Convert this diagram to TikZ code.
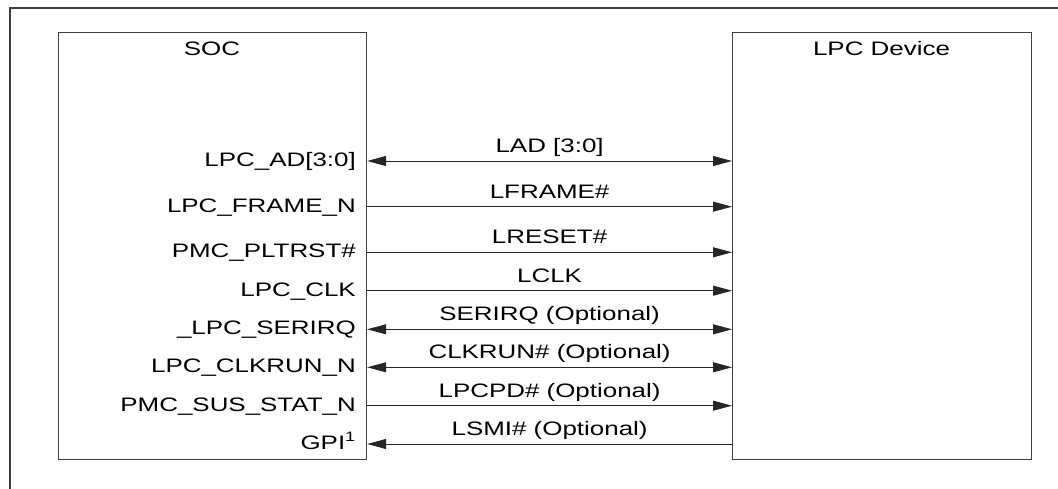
\documentclass[tikz,border=0pt]{standalone}
\usepackage{fontspec}
\setmainfont{Liberation Sans}[FakeStretch=1.33]
\usetikzlibrary{arrows.meta}
\begin{document}
\begin{tikzpicture}[x=1pt,y=-1pt,
  frame/.style={draw=black!75,line width=1.2pt},
  chip/.style={draw=black!75,line width=1.2pt,rectangle,inner sep=0pt,anchor=north west},
  title/.style={anchor=base,font=\fontsize{19.5}{20}\selectfont},
  pin/.style={anchor=base east,inner sep=0pt,font=\fontsize{19.5}{20}\selectfont},
  sig/.style={anchor=base,inner sep=0pt,font=\fontsize{19.5}{20}\selectfont},
  wire/.style={draw=black!85,line width=0.9pt},
  tip/.tip={Triangle[length=19pt,width=10pt]},
  uni/.style={wire,-tip},
  bi/.style={wire,tip-tip},
  back/.style={wire,tip-}]
\useasboundingbox (0,0) rectangle (1058,489);
\coordinate (fa) at (10,489);
\coordinate (fb) at (10,8);
\coordinate (fc) at (1058,8);
\draw[frame] (fa) -- (fb) -- (fc);
\node[chip,minimum width=308pt,minimum height=427pt] (soc) at (58,32) {};
\node[chip,minimum width=299pt,minimum height=427pt] (dev) at (732,32) {};
\node[title] (soct) at (212,56) {SOC};
\node[title] (devt) at (881.5,56) {LPC Device};
% signal rows
\foreach \n/\y in {1/161,2/206.7,3/252.3,4/290.7,5/329.3,6/367.3,7/405.7,8/444}
  \coordinate (r\n) at (0,\y);
\node[pin] (p1) at (356,166.5) {LPC\_AD[3:0]};
\node[pin] (p2) at (356,212.2) {LPC\_FRAME\_N};
\node[pin] (p3) at (356,257.8) {PMC\_PLTRST\#};
\node[pin] (p4) at (356,296.2) {LPC\_CLK};
\node[pin] (p5) at (356,334.8) {\_LPC\_SERIRQ};
\node[pin] (p6) at (356,372.8) {LPC\_CLKRUN\_N};
\node[pin] (p7) at (356,411.2) {PMC\_SUS\_STAT\_N};
\node[pin] (p8) at (356,449.5) {GPI\textsuperscript{1}};
\draw[bi]   (soc.east |- r1) -- (dev.west |- r1) node[sig,pos=0.5,yshift=8.5pt] (s1) {LAD [3:0]};
\draw[uni]  (soc.east |- r2) -- (dev.west |- r2) node[sig,pos=0.5,yshift=8.5pt] (s2) {LFRAME\#};
\draw[uni]  (soc.east |- r3) -- (dev.west |- r3) node[sig,pos=0.5,yshift=8.5pt] (s3) {LRESET\#};
\draw[uni]  (soc.east |- r4) -- (dev.west |- r4) node[sig,pos=0.5,yshift=8.5pt] (s4) {LCLK};
\draw[bi]   (soc.east |- r5) -- (dev.west |- r5) node[sig,pos=0.5,yshift=8.5pt] (s5) {SERIRQ (Optional)};
\draw[bi]   (soc.east |- r6) -- (dev.west |- r6) node[sig,pos=0.5,yshift=8.5pt] (s6) {CLKRUN\# (Optional)};
\draw[uni]  (soc.east |- r7) -- (dev.west |- r7) node[sig,pos=0.5,yshift=8.5pt] (s7) {LPCPD\# (Optional)};
\draw[back] (soc.east |- r8) -- (dev.west |- r8) node[sig,pos=0.5,yshift=8.5pt] (s8) {LSMI\# (Optional)};
\end{tikzpicture}
\end{document}
